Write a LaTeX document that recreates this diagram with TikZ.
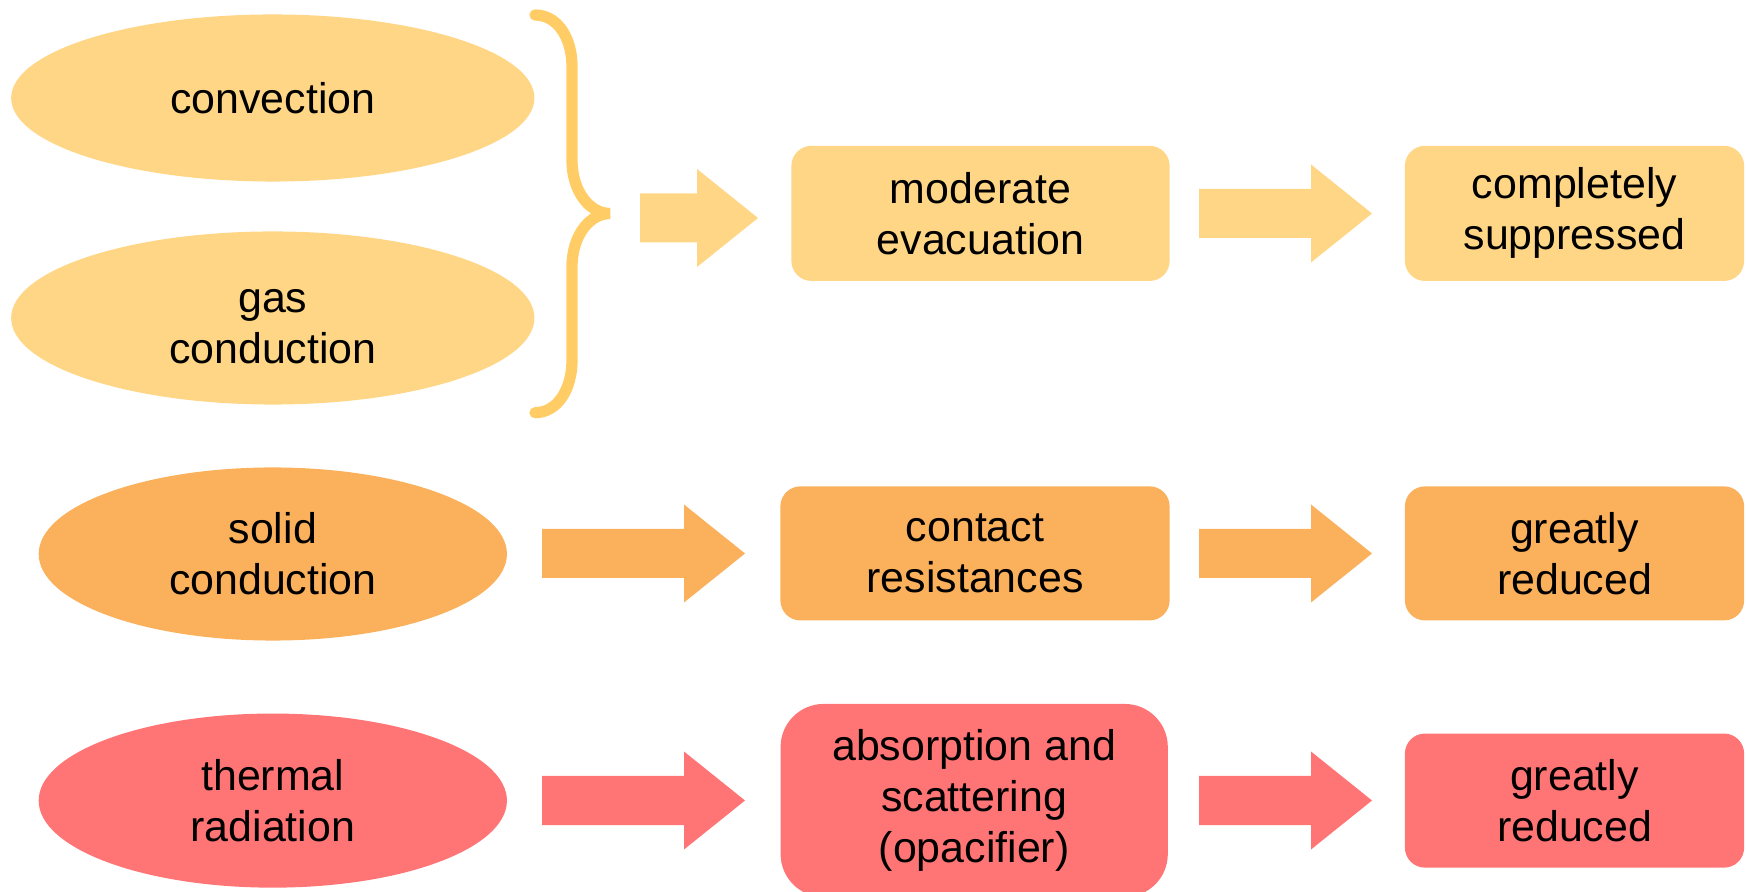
\documentclass[tikz,border=0pt]{standalone}
\usepackage{fontspec}
\setmainfont{Liberation Sans}
\usetikzlibrary{shapes.geometric}

\definecolor{paleyellow}{HTML}{FFD686}
\definecolor{bracegold}{HTML}{FFCC66}
\definecolor{softorange}{HTML}{FBB05C}
\definecolor{softred}{HTML}{FF7575}

\tikzset{
  heat/.style={ellipse,inner sep=0pt,align=center,font=\fontsize{12.2}{14.5}\selectfont},
  stage/.style={rectangle,rounded corners=0.2cm,inner sep=0pt,align=center,font=\fontsize{12.2}{14.5}\selectfont},
}

\begin{document}
\begin{tikzpicture}[x=0.01cm,y=-0.01cm]
\useasboundingbox (0,0) rectangle (1746,892);

\coordinate (Conv) at (272.8,98);
\coordinate (Gas) at (272.8,318);
\coordinate (Solid) at (272.8,554);
\coordinate (Rad) at (272.8,800.6);

% heat transfer paths
\node[heat,fill=paleyellow,minimum width=5.23cm,minimum height=1.67cm] (convection) at (Conv) {convection};
\node[heat,fill=paleyellow,minimum width=5.23cm,minimum height=1.73cm] (gascond) at (Gas) {\\[-0.1cm]gas\\conduction};
\node[heat,fill=softorange,minimum width=4.68cm,minimum height=1.73cm] (solidcond) at (Solid) {solid\\conduction};
\node[heat,fill=softred,minimum width=4.68cm,minimum height=1.74cm] (thermrad) at (Rad) {thermal\\radiation};

% measures and results
\node[stage,fill=paleyellow,minimum width=3.78cm,minimum height=1.35cm] (evac) at (980.5,213.4) {moderate\\evacuation};
\node[stage,fill=paleyellow,minimum width=3.39cm,minimum height=1.35cm] (suppr) at (1574.5,213.4) {completely\\suppressed};
\node[stage,fill=softorange,minimum width=3.89cm,minimum height=1.34cm] (contact) at (975,553.4) {contact\\resistances};
\node[stage,fill=softorange,minimum width=3.39cm,minimum height=1.34cm] (reducedA) at (1574.5,553.4) {greatly\\reduced};
\node[stage,fill=softred,rounded corners=0.43cm,minimum width=3.87cm,minimum height=1.93cm] (opac) at (974.2,800.5) {absorption and\\scattering\\(opacifier)};
\node[stage,fill=softred,minimum width=3.39cm,minimum height=1.34cm] (reducedB) at (1574.5,800.6) {greatly\\reduced};

% brace
\draw[bracegold,line width=3.2pt,line cap=round] (535,15)
    .. controls (557,15) and (572,37) .. (572,67) -- (572,160)
    .. controls (572,192) and (590,213.5) .. (610,213.5)
    .. controls (590,213.5) and (572,235) .. (572,267) -- (572,360)
    .. controls (572,390) and (557,412.7) .. (535,412.7);

% block arrows
\foreach \xa/\xb/\yc/\col in {640/758/218/paleyellow, 1199/1372/213.5/paleyellow,
    542/745/553.5/softorange, 1199/1372/553.5/softorange,
    542/745/800.5/softred, 1199/1372/800.5/softred}
  {
  \fill[\col] (\xa,\yc-24.5) -- (\xb-61,\yc-24.5) -- (\xb-61,\yc-49) -- (\xb,\yc)
      -- (\xb-61,\yc+49) -- (\xb-61,\yc+24.5) -- (\xa,\yc+24.5) -- cycle;
  }
\end{tikzpicture}
\end{document}
